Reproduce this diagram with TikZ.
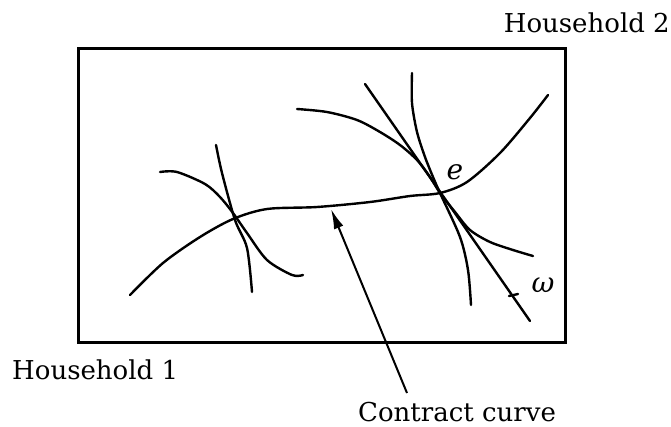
\documentclass[tikz,border=0pt]{standalone}
\usepackage{fontspec}
\setmainfont{DejaVu Serif}
\usetikzlibrary{arrows.meta}

\begin{document}
\begin{tikzpicture}[x=1pt,y=-1pt,
 frame/.style={draw,line width=3pt},
 indiff/.style={draw,line width=2.4pt,line cap=round,line join=round},
 arr/.style={-{Latex[length=20pt,width=10pt]},line width=2pt},
 lbl/.style={inner sep=0pt,font=\fontsize{26}{28}\selectfont},
 pt/.style={inner sep=0pt,font=\fontsize{28}{28}\selectfont\itshape}]
\useasboundingbox (0,0) rectangle (671,426);
\draw[frame] (78,48) rectangle (565,342);
\node[lbl,anchor=base east] (hh2) at (670,32) {Household 2};
\node[lbl,anchor=base west] (hh1) at (12,379) {Household 1};
\node[lbl,anchor=base west] (cc) at (358,421) {Contract curve};
\draw[indiff] plot[smooth,tension=0.5] coordinates {(130,295) (163,263) (200,237) (233,219) (267,209) (317,207) (370,202) (410,196) (440,193) (467,182) (500,153) (530,118) (548,95)};
\draw[indiff] plot[smooth,tension=0.5] coordinates {(160,172) (177,172) (205,184) (220,197) (233,213) (247,233) (267,260) (292,275) (303,275)};
\draw[indiff] plot[smooth,tension=0.5] coordinates {(216,145) (222,173) (235,220) (247,248) (252,292)};
\draw[indiff] plot[smooth,tension=0.5] coordinates {(297,109) (327,112) (357,120) (380,132) (400,145) (417,160) (430,177) (440,193) (455,212) (470,230) (490,242) (513,250) (533,256)};
\draw[indiff] plot[smooth,tension=0.5] coordinates {(412,73) (412,103) (417,132) (425,157) (433,177) (440,193) (460,237) (468,270) (471,305)};
\draw[indiff] (365,84) -- (530,321);
\coordinate (omega) at (512,295);
\draw[indiff] (omega) ++(-3,1) -- ++(9,-2);
\node[pt] (elabel) at (455,172) {e};
\node[pt] (wlabel) at (543,285) {ω};
\coordinate (arrtail) at (407,393);
\coordinate (arrtip) at (331,209);
\draw[arr] (arrtail) -- (arrtip);
\end{tikzpicture}
\end{document}
